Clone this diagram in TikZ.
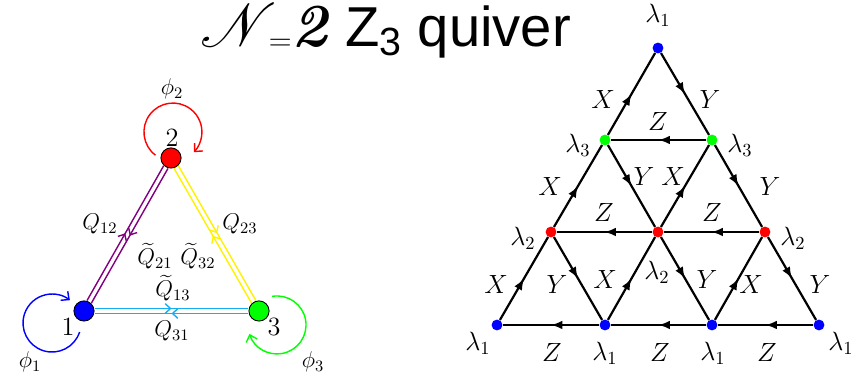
\RequirePackage{fix-cm}
\documentclass[tikz,border=0pt]{standalone}
\usepackage{amsmath}
\usepackage{mathrsfs}
\usepackage{graphicx}
\usepackage{fontspec}
\newfontfamily\arialfont{Liberation Sans}
\usetikzlibrary{arrows.meta, decorations.markings}
\definecolor{qcyan}{RGB}{20,175,240}
\definecolor{qpurple}{RGB}{128,0,128}

\begin{document}
\begin{tikzpicture}[
  x=0.02cm, y=0.02cm,
  vtx/.style={circle, draw=black, line width=0.5pt, inner sep=0pt, minimum size=11.5pt},
  latdot/.style={circle, inner sep=0pt, minimum size=6.2pt},
  lbl/.style={inner sep=0pt, font=\fontsize{15}{17}\selectfont},
  qlbl/.style={inner sep=0pt, font=\fontsize{13}{15}\selectfont},
  zarr/.style={line width=1.25pt, postaction={decorate},
               decoration={markings, mark=at position 0.5 with {\arrow{Latex[length=6.5pt,width=5pt]}}}},
  qarr/.style={line width=0.8pt, postaction={decorate},
               decoration={markings, mark=at position 0.5 with {\arrow{Straight Barb[length=3pt,width=5.5pt]}}}},
  loopy/.style={line width=0.8pt, -{Straight Barb[length=3.5pt,width=6.5pt]}},
]
  \useasboundingbox (0,0) rectangle (863,-374);

  % title
  \node (title) at (386,-31)
    {{\fontsize{24.88}{26}\selectfont\scalebox{1.4}{$\mathscr{N}$}\kern-5pt\raisebox{-2pt}{\fontsize{18}{18}\selectfont=}\kern0pt\scalebox{1.4}{\textbf{\textit{2}}}}%
     {\fontsize{32}{33}\selectfont\arialfont\ Z\textsubscript{3} quiver}};

  % ---- left: the quiver ----
  \node[vtx, fill=blue]  (n1) at (84,-311) {};
  \node[vtx, fill=red]   (n2) at (171,-158) {};
  \node[vtx, fill=green] (n3) at (259,-311) {};
  \node[lbl] (t2) at (172,-138) {$2$};
  \node[lbl] (t1) at (68,-327) {$1$};
  \node[lbl] (t3) at (274,-327) {$3$};

  \draw[qarr, qpurple, transform canvas={shift={(-2.2,1.25)}}] (n1) -- (n2);
  \draw[qarr, qpurple, transform canvas={shift={(2.2,-1.25)}}] (n2) -- (n1);
  \draw[qarr, yellow, transform canvas={shift={(2.2,1.25)}}] (n2) -- (n3);
  \draw[qarr, yellow, transform canvas={shift={(-2.2,-1.25)}}] (n3) -- (n2);
  \draw[qarr, qcyan, transform canvas={shift={(0,2.5)}}] (n1) -- (n3);
  \draw[qarr, qcyan, transform canvas={shift={(0,-2.5)}}] (n3) -- (n1);

  \node[qlbl] (q12) at (100,-224) {$Q_{12}$};
  \node[qlbl] (q21) at (155,-256) {$\widetilde{Q}_{21}$};
  \node[qlbl] (q23) at (240,-224) {$Q_{23}$};
  \node[qlbl] (q32) at (198,-256) {$\widetilde{Q}_{32}$};
  \node[qlbl] (q13) at (173,-288) {$\widetilde{Q}_{13}$};
  \node[qlbl] (q31) at (172,-331) {$Q_{31}$};

  % adjoint loops
  \draw[loopy, red]   (n2) ++(-15.5,2.8) arc[start angle=233, end angle=-44, radius=0.58cm];
  \draw[loopy, blue]  (n1) ++(-4.4,-21) arc[start angle=-18, end angle=-308, radius=0.58cm];
  \draw[loopy, green] (n3) ++(13,14.6) arc[start angle=100, end angle=-162, radius=0.58cm];
  \node[qlbl] (p2) at (172,-89) {$\phi_2$};
  \node[qlbl] (p1) at (30,-362) {$\phi_1$};
  \node[qlbl] (p3) at (313,-362) {$\phi_3$};

  % ---- right: the lattice ----
  \node[latdot, fill=blue]  (t)  at (658,-48) {};
  \node[latdot, fill=green] (g1) at (605,-140) {};
  \node[latdot, fill=green] (g2) at (712,-140) {};
  \node[latdot, fill=red]   (r1) at (551,-232) {};
  \node[latdot, fill=red]   (r2) at (658,-232) {};
  \node[latdot, fill=red]   (r3) at (765,-232) {};
  \node[latdot, fill=blue]  (b1) at (497,-325) {};
  \node[latdot, fill=blue]  (b2) at (605,-325) {};
  \node[latdot, fill=blue]  (b3) at (712,-325) {};
  \node[latdot, fill=blue]  (b4) at (819,-325) {};

  % X
  \draw[zarr] (b1) -- (r1);
  \draw[zarr] (r1) -- (g1);
  \draw[zarr] (g1) -- (t);
  \draw[zarr] (b2) -- (r2);
  \draw[zarr] (r2) -- (g2);
  \draw[zarr] (b3) -- (r3);
  % Y
  \draw[zarr] (t) -- (g2);
  \draw[zarr] (g2) -- (r3);
  \draw[zarr] (r3) -- (b4);
  \draw[zarr] (g1) -- (r2);
  \draw[zarr] (r2) -- (b3);
  \draw[zarr] (r1) -- (b2);
  % Z
  \draw[zarr] (g2) -- (g1);
  \draw[zarr] (r3) -- (r2);
  \draw[zarr] (r2) -- (r1);
  \draw[zarr] (b4) -- (b3);
  \draw[zarr] (b3) -- (b2);
  \draw[zarr] (b2) -- (b1);

  \node[lbl] (x1) at (603,-100) {$X$};
  \node[lbl] (x2) at (550,-187) {$X$};
  \node[lbl] (x3) at (496,-285) {$X$};
  \node[lbl] (x4) at (605,-280) {$X$};
  \node[lbl] (x5) at (673,-177) {$X$};
  \node[lbl] (x6) at (751,-285) {$X$};
  \node[lbl] (y1) at (710,-100) {$Y$};
  \node[lbl] (y2) at (770,-187) {$Y$};
  \node[lbl] (y3) at (820,-285) {$Y$};
  \node[lbl] (y4) at (644,-177) {$Y$};
  \node[lbl] (y5) at (557,-285) {$Y$};
  \node[lbl] (y6) at (707,-280) {$Y$};
  \node[lbl] (z1) at (658,-122) {$Z$};
  \node[lbl] (z2) at (604,-213) {$Z$};
  \node[lbl] (z3) at (712,-213) {$Z$};
  \node[lbl] (z4) at (552,-353) {$Z$};
  \node[lbl] (z5) at (660,-353) {$Z$};
  \node[lbl] (z6) at (767,-353) {$Z$};

  \node[lbl] (lt)  at (658,-15) {$\lambda_1$};
  \node[lbl] (lg1) at (578,-145) {$\lambda_3$};
  \node[lbl] (lg2) at (740,-145) {$\lambda_3$};
  \node[lbl] (lr1) at (523,-238) {$\lambda_2$};
  \node[lbl] (lr2) at (657,-272) {$\lambda_2$};
  \node[lbl] (lr3) at (793,-238) {$\lambda_2$};
  \node[lbl] (lb1) at (478,-343) {$\lambda_1$};
  \node[lbl] (lb2) at (605,-353) {$\lambda_1$};
  \node[lbl] (lb3) at (713,-353) {$\lambda_1$};
  \node[lbl] (lb4) at (841,-343) {$\lambda_1$};
\end{tikzpicture}
\end{document}
